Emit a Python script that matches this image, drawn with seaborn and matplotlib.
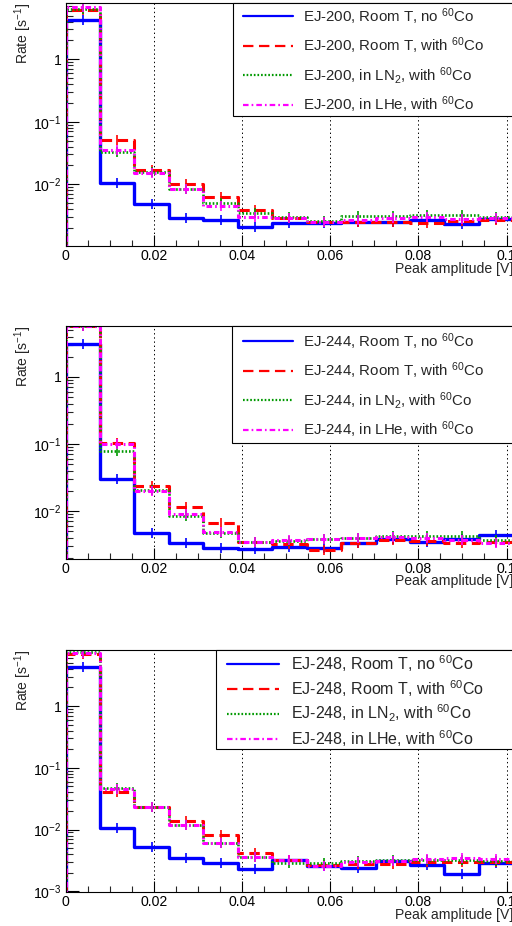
import numpy as np
import pandas as pd
import matplotlib
matplotlib.use("Agg")
import matplotlib.pyplot as plt
import seaborn as sns
from matplotlib.ticker import MultipleLocator, LogLocator, FuncFormatter, NullFormatter
from matplotlib.patches import Rectangle

# ---------------- data ----------------
bin_width = 1 / 128
n_bins = 13
edges = np.arange(n_bins + 1) * bin_width
centers = edges[:-1] + bin_width / 2

ej200_room_no_co = [4.25, 0.0105, 0.00484, 0.00289, 0.00268, 0.00208, 0.00243, 0.00243, 0.00249, 0.00249, 0.00265, 0.00229, 0.00275]
ej200_room_co = [6.2, 0.0506, 0.0169, 0.0102, 0.00627, 0.00381, 0.00292, 0.00249, 0.0025, 0.0025, 0.00238, 0.00258, 0.0027]
ej200_ln2_co = [6.45, 0.0325, 0.0159, 0.0085, 0.0050, 0.00344, 0.00297, 0.0026, 0.00307, 0.00307, 0.00323, 0.00327, 0.00297]
ej200_lhe_co = [6.8, 0.0354, 0.015, 0.0083, 0.00455, 0.00298, 0.00293, 0.00252, 0.0027, 0.00285, 0.0030, 0.0028, 0.0029]

ej244_room_no_co = [3.08, 0.0297, 0.00464, 0.00336, 0.00283, 0.00274, 0.0029, 0.00278, 0.00336, 0.00378, 0.0034, 0.0038, 0.00434]
ej244_room_co = [5.8, 0.102, 0.0239, 0.0115, 0.00655, 0.0034, 0.00318, 0.00264, 0.0033, 0.00369, 0.0036, 0.0033, 0.0034]
ej244_ln2_co = [5.75, 0.0778, 0.0206, 0.0085, 0.00464, 0.0035, 0.0036, 0.0038, 0.0039, 0.0043, 0.0043, 0.0042, 0.0037]
ej244_lhe_co = [5.85, 0.099, 0.0201, 0.0091, 0.0049, 0.0034, 0.0037, 0.0038, 0.0039, 0.0041, 0.0039, 0.0037, 0.0033]

ej248_room_no_co = [4.23, 0.0107, 0.00529, 0.00351, 0.00284, 0.0023, 0.0032, 0.0026, 0.00237, 0.0031, 0.00272, 0.00189, 0.0029]
ej248_room_co = [6.94, 0.041, 0.0234, 0.0139, 0.0081, 0.00424, 0.0032, 0.00267, 0.00275, 0.00277, 0.0030, 0.0030, 0.0030]
ej248_ln2_co = [7.56, 0.0476, 0.0229, 0.0117, 0.006, 0.0036, 0.00293, 0.0029, 0.0031, 0.0032, 0.0032, 0.0032, 0.0031]
ej248_lhe_co = [7.3, 0.045, 0.023, 0.0118, 0.006, 0.0036, 0.0032, 0.0026, 0.0030, 0.0031, 0.0033, 0.0035, 0.0034]

scintillators = ["EJ-200", "EJ-244", "EJ-248"]
condition_labels = ["Room T, no $^{60}$Co", "Room T, with $^{60}$Co",
                    "in LN$_{2}$, with $^{60}$Co", "in LHe, with $^{60}$Co"]
series_by_panel = [
    [ej200_room_no_co, ej200_room_co, ej200_ln2_co, ej200_lhe_co],
    [ej244_room_no_co, ej244_room_co, ej244_ln2_co, ej244_lhe_co],
    [ej248_room_no_co, ej248_room_co, ej248_ln2_co, ej248_lhe_co],
]

# ---------------- style ----------------
sns.set_theme(style="ticks")
plt.rcParams["font.family"] = ["Liberation Sans", "DejaVu Sans"]
plt.rcParams["mathtext.fontset"] = "custom"
plt.rcParams["mathtext.rm"] = "Liberation Sans"
plt.rcParams["mathtext.it"] = "Liberation Sans:italic"
plt.rcParams["mathtext.bf"] = "Liberation Sans:bold"
plt.rcParams["mathtext.default"] = "rm"
plt.rcParams["lines.scale_dashes"] = False
plt.rcParams["axes.edgecolor"] = "black"
plt.rcParams["axes.linewidth"] = 0.8

line_styles = [
    dict(color="#0000ff", ls="-", lw=2.4),
    dict(color="#ff0000", ls=(0, (7.5, 4.0)), lw=2.2),
    dict(color="#009900", ls=(0, (1.2, 1.4)), lw=1.9),
    dict(color="#ff00ff", ls=(0, (4.0, 2.2, 1.2, 2.2)), lw=2.2),
]

FIG_W, FIG_H = 512, 926
AX_L, AX_R = 65.5, 513.4
panel_geom = [
    dict(top=2.7, bottom=246.0, ylim=(1.03e-3, 8.05), box=(232.7, 116.0), hx=243.0, ry=6.0, fs=10.8, lsp=0.59, hl=3.3, htp=0.69),
    dict(top=325.7, bottom=559.0, ylim=(1.92e-3, 5.83), box=(232.0, 443.3), hx=243.0, ry=331.0, fs=10.8, lsp=0.59, hl=3.3, htp=0.69),
    dict(top=650.0, bottom=892.0, ylim=(0.98e-3, 8.06), box=(215.7, 749.0), hx=226.7, ry=653.0, fs=11.5, lsp=0.26, hl=3.27, htp=0.73),
]

fig = plt.figure(figsize=(FIG_W / 100, FIG_H / 100), dpi=100)
fig.patch.set_facecolor("white")


def log_fmt(v, pos):
    e = int(round(np.log10(v)))
    if e == 0:
        return "1"
    return r"$10^{%d}$" % e


def x_fmt(v, pos):
    return "%g" % round(v, 6)


for name, series, g in zip(scintillators, series_by_panel, panel_geom):
    h_px = g["bottom"] - g["top"]
    w_px = AX_R - AX_L
    ax = fig.add_axes([AX_L / FIG_W, 1 - g["bottom"] / FIG_H, w_px / FIG_W, h_px / FIG_H])
    ax.set_facecolor("white")
    ax.set_yscale("log")
    ymin, ymax = g["ylim"]

    for vals, cond, st in zip(series, condition_labels, line_styles):
        xs = np.concatenate([[edges[0]], edges])
        ys = np.concatenate([[ymin * 0.1], vals, [vals[-1]]])
        df = pd.DataFrame({"x": xs, "y": ys})
        sns.lineplot(data=df, x="x", y="y", ax=ax, estimator=None, sort=False,
                     drawstyle="steps-post", color=st["color"], linestyle=st["ls"],
                     linewidth=st["lw"], label=f"{name}, {cond}")
        ax.plot(centers, vals, linestyle="none", marker="|", markersize=7,
                markeredgewidth=1.2, color=st["color"])

    ax.set_xlim(0, n_bins * bin_width)
    ax.set_ylim(ymin, ymax)

    ax.xaxis.set_major_locator(MultipleLocator(0.02))
    ax.xaxis.set_minor_locator(MultipleLocator(0.005))
    ax.xaxis.set_major_formatter(FuncFormatter(x_fmt))
    ax.yaxis.set_major_locator(LogLocator(base=10))
    ax.yaxis.set_minor_locator(LogLocator(base=10, subs=np.arange(2, 10)))
    ax.yaxis.set_major_formatter(FuncFormatter(log_fmt))
    ax.yaxis.set_minor_formatter(NullFormatter())

    ax.tick_params(axis="x", which="major", direction="in", length=8, width=0.8,
                   labelsize=10.1, pad=2.0, top=False, colors="black")
    ax.tick_params(axis="x", which="minor", direction="in", length=4, width=0.8, top=False)
    ax.tick_params(axis="y", which="major", direction="in", length=9.4, width=0.8,
                   labelsize=10.1, pad=3, right=False, colors="black")
    ax.tick_params(axis="y", which="minor", direction="in", length=5, width=0.8, right=False)

    ax.grid(axis="x", which="major", color="black", linestyle=(0, (1, 2)), linewidth=0.7)
    ax.grid(axis="y", visible=False)
    ax.grid(axis="x", which="minor", visible=False)

    ax.set_xlabel("Peak amplitude [V]", fontsize=10.1, loc="right")
    ax.xaxis.set_label_coords(1.0, -15.5 / h_px)
    ax.set_ylabel("Rate [s$^{-1}$]", fontsize=10.1, loc="top")
    ax.yaxis.set_label_coords((34.0 - AX_L) / w_px, 1.0)

    for sp in ax.spines.values():
        sp.set_color("black")
        sp.set_linewidth(0.8)

    # legend frame (extends past the right edge like the original pad)
    bx, bb = g["box"]
    y0 = (g["bottom"] - bb) / h_px
    rect = Rectangle(((bx - AX_L) / w_px, y0), 1.2, 1.0 - y0,
                     transform=ax.transAxes, facecolor="white",
                     edgecolor="black", linewidth=0.8, zorder=4, clip_on=False)
    ax.add_patch(rect)
    leg = ax.legend(loc="upper left",
                    bbox_to_anchor=((g["hx"] - AX_L) / w_px, (g["bottom"] - g["ry"]) / h_px),
                    frameon=False, fontsize=g["fs"], borderpad=0, borderaxespad=0,
                    labelspacing=g["lsp"], handlelength=g["hl"], handletextpad=g["htp"])
    leg.set_zorder(5)
    for hnd in leg.legend_handles:
        hnd.set_linewidth(1.6)

fig.savefig("out.png", dpi=100, facecolor="white")
